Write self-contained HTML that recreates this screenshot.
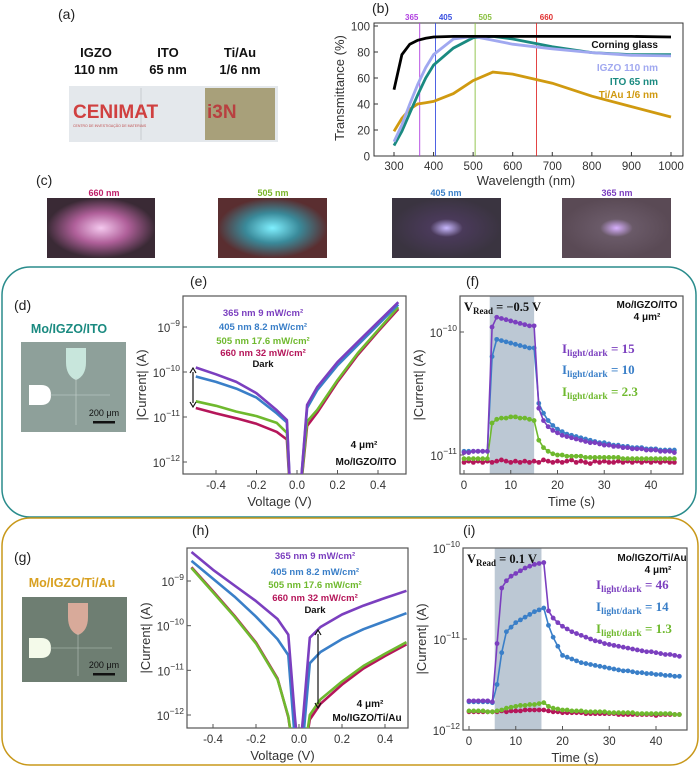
<!DOCTYPE html>
<html><head><meta charset="utf-8">
<style>
html,body{margin:0;padding:0;background:#fff;}
svg{display:block;font-family:"Liberation Sans",sans-serif;}
.tk{font-size:11.5px;fill:#333;}
.lbl{font-size:13px;fill:#333;}
.pl{font-size:14px;fill:#222;}
.lg{font-size:9.5px;font-weight:bold;}
</style></head>
<body>
<svg id="fig" width="700" height="767" viewBox="0 0 700 767" xmlns="http://www.w3.org/2000/svg">
<defs>
<clipPath id="cb"><rect x="374" y="23" width="309" height="133"/></clipPath>
<clipPath id="ce"><rect x="183" y="296" width="223" height="178"/></clipPath>
<clipPath id="cf"><rect x="460" y="296" width="223" height="178"/></clipPath>
<clipPath id="ch"><rect x="187" y="548" width="221" height="180"/></clipPath>
<clipPath id="ci"><rect x="463" y="548" width="224" height="182"/></clipPath>
<radialGradient id="g660"><stop offset="0" stop-color="#f4c8ee"/><stop offset="0.5" stop-color="#b0609a"/><stop offset="1" stop-color="#3a2a35"/></radialGradient>
<radialGradient id="g505"><stop offset="0" stop-color="#7ff0ff"/><stop offset="0.5" stop-color="#3a8a9a"/><stop offset="1" stop-color="#5a2e30"/></radialGradient>
<radialGradient id="g405"><stop offset="0" stop-color="#c8b8ff"/><stop offset="0.3" stop-color="#4a3a5a"/><stop offset="1" stop-color="#3a3440"/></radialGradient>
<radialGradient id="g365"><stop offset="0" stop-color="#d8b0ff"/><stop offset="0.3" stop-color="#6a5a68"/><stop offset="1" stop-color="#5a4a55"/></radialGradient>
</defs>

<!-- (a) -->
<text x="58" y="19" class="pl">(a)</text>
<g font-weight="bold" font-size="13" text-anchor="middle" fill="#111">
<text x="96" y="57">IGZO</text>
<text x="96" y="74">110 nm</text>
<text x="168" y="57">ITO</text>
<text x="168" y="74">65 nm</text>
<text x="240" y="57">Ti/Au</text>
<text x="240" y="74">1/6 nm</text>
</g>
<g>
<rect x="69" y="86" width="209" height="56" fill="#e4e8ec"/>
<rect x="205" y="88" width="70" height="52" fill="#a8a07a"/>
<line x1="141" y1="88" x2="141" y2="140" stroke="#c8ccd0"/>
<text x="73" y="118" font-size="19" font-weight="bold" fill="#d04040">CENIMAT</text>
<text x="207" y="118" font-size="19" font-weight="bold" fill="#b84040">i3N</text>
<text x="73" y="127" font-size="3.5" fill="#c05050">CENTRO DE INVESTIGAÇÃO DE MATERIAIS</text>
</g>

<!-- (b) -->
<text x="372" y="13" class="pl">(b)</text>
<g id="pb"></g>

<!-- (c) -->
<text x="36" y="185" class="pl">(c)</text>
<g font-size="9" font-weight="bold" text-anchor="middle">
<text x="104" y="196" fill="#c0206a">660 nm</text>
<text x="273" y="196" fill="#7ab52a">505 nm</text>
<text x="446" y="196" fill="#3a7fc8">405 nm</text>
<text x="617" y="196" fill="#7b3fbf">365 nm</text>
</g>
<rect x="47" y="198" width="108" height="60" fill="url(#g660)"/>
<rect x="218" y="198" width="109" height="60" fill="url(#g505)"/>
<rect x="392" y="198" width="109" height="60" fill="url(#g405)"/>
<rect x="562" y="198" width="109" height="60" fill="url(#g365)"/>

<!-- ITO box -->
<rect x="2" y="267" width="694" height="250" rx="28" fill="#fff" stroke="#2a8c8c" stroke-width="1.5"/>
<text x="14" y="310" class="pl">(d)</text>
<text x="190" y="286" class="pl">(e)</text>
<text x="466" y="286" class="pl">(f)</text>
<text x="69" y="333" text-anchor="middle" font-size="12.5" font-weight="bold" fill="#1a8a80">Mo/IGZO/ITO</text>
<g>
<rect x="21" y="342" width="105" height="90" fill="#8ea09a"/>
<path d="M66 348 h20 v14 q0 14 -10 18 q-10 -4 -10 -18z" fill="#c8e6dc"/>
<path d="M29 385 h12 q10 0 10 10 q0 10 -10 10 h-12z" fill="#fff"/>
<line x1="76" y1="378" x2="76" y2="425" stroke="#c8d4d0" stroke-width="0.6"/>
<line x1="50" y1="395" x2="110" y2="395" stroke="#c8d4d0" stroke-width="0.6"/>
<text x="104" y="416" font-size="9" text-anchor="middle" fill="#111">200 μm</text>
<rect x="93" y="421" width="22" height="2.5" fill="#111"/>
</g>
<g id="pe"></g><g id="pf"></g>

<!-- Ti/Au box -->
<rect x="2" y="518" width="696" height="247" rx="28" fill="#fff" stroke="#c8981a" stroke-width="1.5"/>
<text x="14" y="562" class="pl">(g)</text>
<text x="192" y="535" class="pl">(h)</text>
<text x="463" y="535" class="pl">(i)</text>
<text x="72" y="587" text-anchor="middle" font-size="12.5" font-weight="bold" fill="#d8a020">Mo/IGZO/Ti/Au</text>
<g>
<rect x="22" y="597" width="105" height="85" fill="#6e7e72"/>
<path d="M68 603 h20 v14 q0 14 -10 18 q-10 -4 -10 -18z" fill="#d8aa9a"/>
<path d="M29 638 h12 q10 0 10 10 q0 10 -10 10 h-12z" fill="#f4faea"/>
<line x1="78" y1="633" x2="78" y2="676" stroke="#b8c4bc" stroke-width="0.6"/>
<line x1="50" y1="648" x2="112" y2="648" stroke="#b8c4bc" stroke-width="0.6"/>
<text x="104" y="668" font-size="9" text-anchor="middle" fill="#111">200 μm</text>
<rect x="93" y="673" width="22" height="2.5" fill="#111"/>
</g>
<g id="ph"></g><g id="pi"></g>
</svg>

<script>
// ---------- data ----------
const wl = [300,320,340,360,380,400,450,500,550,600,700,800,900,1000];
const tCorning = [51,78,86,89,90.5,91.5,92,92,92,92,92,92,92,91.5];
const tIGZO = [11,24,40,55,68,78,90,92,89,86,82.5,79.5,77.5,77];
const tITO = [8,19,33,47,60,70,83,91,92,90,84,79.5,78,78];
const tTiAu = [19,29,36,40,41,42,48,58,64.5,63,56,46,38,30];
const bXTicks = [300,400,500,600,700,800,900,1000];
const bYTicks = [0,20,40,60,80,100];
const ledNm = [365,405,505,660];

const vE = [-0.5,-0.4,-0.3,-0.2,-0.1,-0.05,-0.03,0,0.01,0.05,0.1,0.2,0.3,0.4,0.5];
const e365 = [-9.9,-10.05,-10.22,-10.47,-10.85,-11.07,-13,-13,-13,-10.73,-10.33,-9.78,-9.33,-8.89,-8.45];
const e405 = [-10.1,-10.22,-10.37,-10.57,-10.92,-11.12,-13,-13,-13,-10.8,-10.4,-9.85,-9.4,-8.95,-8.5];
const e505 = [-10.65,-10.75,-10.88,-10.98,-11.13,-11.35,-13,-13,-13,-11.1,-10.84,-10.18,-9.58,-9.07,-8.56];
const e660 = [-10.8,-10.92,-11.03,-11.15,-11.33,-11.5,-13,-13,-13,-11.2,-10.9,-10.22,-9.62,-9.1,-8.6];

const vH = [-0.5,-0.4,-0.3,-0.2,-0.1,-0.05,-0.02,0,0.02,0.05,0.1,0.2,0.3,0.4,0.5];
const h365 = [-8.35,-8.75,-9.1,-9.45,-9.85,-10.2,-12,-13,-12,-10.27,-10.03,-9.75,-9.55,-9.38,-9.22];
const h405 = [-8.55,-8.95,-9.35,-9.8,-10.3,-10.66,-12.5,-13,-12.5,-10.84,-10.59,-10.3,-10.08,-9.9,-9.72];
const h505 = [-8.71,-9.25,-9.8,-10.4,-11.2,-12.03,-13,-13.5,-13,-12.0,-11.65,-11.25,-10.9,-10.63,-10.37];
const h660 = [-8.69,-9.23,-9.78,-10.38,-11.18,-12.05,-13,-13.5,-13,-12.1,-11.75,-11.32,-10.96,-10.68,-10.42];
const vTicks = [-0.4,-0.2,0.0,0.2,0.4];

const tF = [0,1,2,3,4,5,6,7,8,9,10,11,12,13,14,15,16,17,18,19,20,21,22,23,24,25,26,27,28,29,30,31,32,33,34,35,36,37,38,39,40,41,42,43,44,45];
const f365 = [-10.98,-10.98,-10.97,-10.97,-10.97,-10.97,-9.96,-9.88,-9.89,-9.9,-9.91,-9.92,-9.93,-9.94,-9.95,-9.95,-10.62,-10.72,-10.77,-10.8,-10.82,-10.84,-10.85,-10.86,-10.87,-10.88,-10.89,-10.9,-10.9,-10.91,-10.92,-10.92,-10.93,-10.93,-10.94,-10.94,-10.95,-10.95,-10.95,-10.96,-10.96,-10.96,-10.97,-10.97,-10.97,-10.98];
const f405 = [-10.97,-10.97,-10.97,-10.97,-10.97,-10.97,-10.2,-10.06,-10.07,-10.08,-10.09,-10.1,-10.11,-10.12,-10.13,-10.13,-10.58,-10.66,-10.72,-10.76,-10.79,-10.81,-10.83,-10.84,-10.85,-10.86,-10.87,-10.88,-10.89,-10.9,-10.9,-10.91,-10.92,-10.92,-10.93,-10.93,-10.94,-10.94,-10.94,-10.95,-10.95,-10.95,-10.96,-10.96,-10.96,-10.96];
const f505 = [-11.03,-11.03,-11.03,-11.03,-11.03,-11.03,-10.74,-10.71,-10.7,-10.7,-10.69,-10.69,-10.7,-10.7,-10.71,-10.72,-10.88,-10.94,-10.97,-10.99,-11.0,-11.0,-11.01,-11.01,-11.01,-11.01,-11.02,-11.02,-11.02,-11.02,-11.02,-11.02,-11.02,-11.02,-11.03,-11.03,-11.03,-11.03,-11.03,-11.03,-11.03,-11.03,-11.03,-11.03,-11.03,-11.03];
const f660 = [-11.06,-11.05,-11.06,-11.05,-11.06,-11.05,-11.06,-11.05,-11.04,-11.05,-11.06,-11.05,-11.06,-11.05,-11.06,-11.05,-11.06,-11.04,-11.05,-11.06,-11.05,-11.06,-11.05,-11.04,-11.06,-11.05,-11.06,-11.07,-11.05,-11.06,-11.05,-11.06,-11.06,-11.05,-11.06,-11.05,-11.06,-11.05,-11.06,-11.05,-11.06,-11.05,-11.06,-11.05,-11.06,-11.06];
const i365 = [-11.68,-11.68,-11.68,-11.68,-11.68,-11.69,-11.05,-10.44,-10.36,-10.31,-10.28,-10.25,-10.22,-10.2,-10.18,-10.17,-10.16,-10.69,-10.77,-10.82,-10.86,-10.89,-10.92,-10.94,-10.96,-10.98,-11.0,-11.02,-11.03,-11.05,-11.06,-11.07,-11.08,-11.09,-11.1,-11.11,-11.12,-11.13,-11.14,-11.14,-11.15,-11.16,-11.17,-11.17,-11.18,-11.19];
const i405 = [-11.69,-11.69,-11.69,-11.69,-11.69,-11.7,-11.5,-11.15,-10.92,-10.87,-10.82,-10.79,-10.76,-10.73,-10.7,-10.68,-10.66,-10.85,-10.98,-11.08,-11.18,-11.2,-11.22,-11.24,-11.26,-11.27,-11.28,-11.29,-11.3,-11.31,-11.32,-11.33,-11.34,-11.35,-11.35,-11.36,-11.37,-11.37,-11.38,-11.38,-11.39,-11.39,-11.4,-11.4,-11.41,-11.41];
const i505 = [-11.79,-11.79,-11.79,-11.79,-11.8,-11.8,-11.79,-11.78,-11.76,-11.75,-11.74,-11.73,-11.73,-11.72,-11.72,-11.71,-11.7,-11.74,-11.76,-11.77,-11.78,-11.78,-11.79,-11.79,-11.79,-11.8,-11.8,-11.8,-11.8,-11.8,-11.81,-11.81,-11.81,-11.81,-11.81,-11.81,-11.82,-11.82,-11.82,-11.82,-11.82,-11.82,-11.82,-11.82,-11.83,-11.83];
const i660 = [-11.8,-11.8,-11.8,-11.8,-11.8,-11.8,-11.8,-11.79,-11.8,-11.79,-11.79,-11.79,-11.78,-11.78,-11.78,-11.78,-11.78,-11.79,-11.8,-11.8,-11.81,-11.81,-11.81,-11.81,-11.81,-11.82,-11.82,-11.82,-11.82,-11.82,-11.82,-11.82,-11.83,-11.83,-11.83,-11.83,-11.83,-11.83,-11.83,-11.83,-11.84,-11.83,-11.83,-11.83,-11.83,-11.83];
const timeTicks = [0,10,20,30,40];

const C = {p:'#7b3fbf',b:'#3a7fc8',g:'#6fb92e',r:'#b5165a'};
const NS='http://www.w3.org/2000/svg';
function mk(parent,tag,attrs){const e=document.createElementNS(NS,tag);for(const k in attrs)e.setAttribute(k,attrs[k]);parent.appendChild(e);return e;}
function txt(parent,x,y,s,attrs){const t=mk(parent,'text',Object.assign({x:x,y:y},attrs||{}));t.textContent=s;return t;}
function lin(a0,a1,p0,p1){return v=>p0+(v-a0)/(a1-a0)*(p1-p0);}
function pathD(xs,ys,sx,sy){return xs.map((x,i)=>(i?'L':'M')+sx(x).toFixed(1)+' '+sy(ys[i]).toFixed(1)).join(' ');}
function sup(parent,x,y,exp,anchor){const t=mk(parent,'text',{x:x,y:y,'text-anchor':anchor||'end',class:'tk'});t.textContent='10';const s=mk(t,'tspan',{dy:-6,'font-size':'8.5'});s.textContent=exp;return t;}

// ---------- (b) ----------
(function(){
const g=document.getElementById('pb');
const sx=lin(300,1000,394,671), sy=lin(0,100,156,26);
const ax=mk(g,'rect',{x:374,y:23,width:309,height:133,fill:'none',stroke:'#333','stroke-width':1});


bXTicks.forEach(v=>{mk(g,'line',{x1:sx(v),x2:sx(v),y1:156,y2:152,stroke:'#333'});
 const t=txt(g,sx(v),170,v,{class:'tk','text-anchor':'middle','font-size':'12'});});
bYTicks.forEach(v=>{mk(g,'line',{x1:374,x2:378,y1:sy(v),y2:sy(v),stroke:'#333'});
 const t=txt(g,370,sy(v)+4.5,v,{class:'tk','text-anchor':'end','font-size':'12'});});
const xt=txt(g,526,185,'Wavelength (nm)',{class:'lbl','text-anchor':'middle','font-size':'14'});

const yt=txt(g,0,0,'Transmittance (%)',{class:'lbl','text-anchor':'middle','font-size':'14',transform:'translate(344,88) rotate(-90)'});

const ledCol=['#b040e0','#3a50e0','#8ac040','#e03030'];
const labOff=[-8,10,10,10];
ledNm.forEach((n,i)=>{const l=mk(g,'line',{x1:sx(n),x2:sx(n),y1:23,y2:156,stroke:ledCol[i],'stroke-width':0.9});
 
 const t=txt(g,sx(n)+labOff[i],20,n,{'font-size':'8','font-weight':'bold','text-anchor':'middle',fill:ledCol[i]});
 });
const cg=mk(g,'g',{'clip-path':'url(#cb)'});
[[tTiAu,'#d09a10','tiau-curve'],[tITO,'#1a8a80','ito-curve'],[tIGZO,'#a0a8f0','igzo-curve'],[tCorning,'#000','corning-curve']].forEach(s=>{
 const p=mk(cg,'path',{d:pathD(wl,s[0],sx,sy),fill:'none',stroke:s[1],'stroke-width':2.8});
 });
const labs=[['Corning glass',48,'#111'],['IGZO 110 nm',71,'#a0a8f0'],['ITO 65 nm',85,'#1a8a80'],['Ti/Au 1/6 nm',98,'#d09a10']];
labs.forEach(l=>{const t=txt(g,658,l[1],l[0],{'font-size':'10','font-weight':'bold','text-anchor':'end',fill:l[2]});
 });
})();

// ---------- IV panels ----------
function ivPanel(id,box,xr,yr,ticksExp,vx,series,cpid,legendX,legendY,arrow,labels){
 const g=document.getElementById(id);
 const sx=lin(xr[0],xr[1],xr[2],xr[3]), sy=lin(yr[0],yr[1],yr[2],yr[3]);
 const r=mk(g,'rect',{x:box[0],y:box[1],width:box[2],height:box[3],fill:'none',stroke:'#555','stroke-width':1.2});
 
 vTicks.forEach(v=>{mk(g,'line',{x1:sx(v),x2:sx(v),y1:box[1]+box[3],y2:box[1]+box[3]-4,stroke:'#555'});
  const t=txt(g,sx(v),box[1]+box[3]+15,v.toFixed(1),{class:'tk','text-anchor':'middle'});
  });
 ticksExp.forEach(e=>{mk(g,'line',{x1:box[0],x2:box[0]+4,y1:sy(e),y2:sy(e),stroke:'#555'});
  const t=sup(g,box[0]-3,sy(e)+5,String(e).replace('-','−'));
  });
 const xt=txt(g,box[0]+box[2]/2-15,box[1]+box[3]+32,'Voltage (V)',{class:'lbl','text-anchor':'middle','font-size':'14'});
 
 const yt=txt(g,0,0,'|Current| (A)',{class:'lbl','text-anchor':'middle','font-size':'14',transform:'translate('+(box[0]-37)+','+(box[1]+box[3]/2)+') rotate(-90)'});
 
 const cg=mk(g,'g',{'clip-path':'url(#'+cpid+')'});
 series.forEach(s=>{const p=mk(cg,'path',{d:pathD(vx,s[0],sx,sy),fill:'none',stroke:s[1],'stroke-width':2.6,'stroke-linejoin':'round'});
  });
 const legs=[['365 nm 9 mW/cm²',C.p],['405 nm 8.2 mW/cm²',C.b],['505 nm 17.6 mW/cm²',C.g],['660 nm 32 mW/cm²',C.r],['Dark','#111']];
 legs.forEach((l,i)=>{const t=txt(g,legendX,legendY[i],l[0],{class:'lg','text-anchor':'middle',fill:l[1]});
  });
 const a=mk(g,'path',{d:'M'+arrow[0]+' '+(arrow[1]+4)+' V'+(arrow[2]-4)+' M'+(arrow[0]-3)+' '+(arrow[1]+5)+' L'+arrow[0]+' '+arrow[1]+' L'+(arrow[0]+3)+' '+(arrow[1]+5)+' M'+(arrow[0]-3)+' '+(arrow[2]-5)+' L'+arrow[0]+' '+arrow[2]+' L'+(arrow[0]+3)+' '+(arrow[2]-5),fill:'none',stroke:'#111','stroke-width':1.2});
 
 labels.forEach(l=>{const t=txt(g,l[0],l[1],l[2],{'font-size':'10','font-weight':'bold','text-anchor':'middle',fill:'#111'});
  });
}
ivPanel('pe',[183,296,223,178],[0,0.4,297,378],[-9,-12,327,462],[-9,-10,-11,-12],vE,
 [[e660,C.r,'iv-660nm'],[e505,C.g,'iv-505nm'],[e405,C.b,'iv-405nm'],[e365,C.p,'iv-365nm']],'ce',
 263,[316,330,344,356,367],[193,368,407],[[364,448,'4 μm²'],[366,465,'Mo/IGZO/ITO']]);
ivPanel('ph',[187,548,221,180],[0,0.4,299,385],[-9,-12,581,715],[-9,-10,-11,-12],vH,
 [[h660,C.r,'iv-660nm'],[h505,C.g,'iv-505nm'],[h405,C.b,'iv-405nm'],[h365,C.p,'iv-365nm']],'ch',
 315,[559,575,588,601,613],[318,630,708],[[370,707,'4 μm²'],[367,721,'Mo/IGZO/Ti/Au']]);

// ---------- transient panels ----------
function tPanel(id,box,xr,yr,ticksExp,shade,series,cpid,vread,dev,ratios,ry,rx){
 const g=document.getElementById(id);
 const sx=lin(xr[0],xr[1],xr[2],xr[3]), sy=lin(yr[0],yr[1],yr[2],yr[3]);
 const sh=mk(g,'rect',{x:sx(shade[0]),y:box[1],width:sx(shade[1])-sx(shade[0]),height:box[3],fill:'#bcc8d4'});
 
 const r=mk(g,'rect',{x:box[0],y:box[1],width:box[2],height:box[3],fill:'none',stroke:'#555','stroke-width':1.2});
 
 timeTicks.forEach(v=>{mk(g,'line',{x1:sx(v),x2:sx(v),y1:box[1]+box[3],y2:box[1]+box[3]-4,stroke:'#555'});
  const t=txt(g,sx(v),box[1]+box[3]+15,v,{class:'tk','text-anchor':'middle'});
  });
 ticksExp.forEach(e=>{mk(g,'line',{x1:box[0],x2:box[0]+4,y1:sy(e),y2:sy(e),stroke:'#555'});
  const t=sup(g,box[0]-3,sy(e)+5,String(e).replace('-','−'));
  });
 const xt=txt(g,box[0]+box[2]/2,box[1]+box[3]+32,'Time (s)',{class:'lbl','text-anchor':'middle','font-size':'14'});
 
 const yt=txt(g,0,0,'|Current| (A)',{class:'lbl','text-anchor':'middle','font-size':'14',transform:'translate('+(box[0]-37)+','+(box[1]+box[3]/2)+') rotate(-90)'});
 
 const cg=mk(g,'g',{'clip-path':'url(#'+cpid+')'});
 series.forEach(s=>{const p=mk(cg,'path',{d:pathD(tF,s[0],sx,sy),fill:'none',stroke:s[1],'stroke-width':1.6});
  
  tF.forEach((t,i)=>{const c=mk(cg,'circle',{cx:sx(t),cy:sy(s[0][i]),r:2.4,fill:s[1]});
   });});
 const vr=mk(g,'text',{x:box[0]+4,y:box[1]+15,'font-family':'Liberation Serif,serif','font-size':'12.5','font-weight':'bold',fill:'#111'});
 
 vr.textContent='V';const sb=mk(vr,'tspan',{dy:3,'font-size':'9'});sb.textContent='Read';
 const rest=mk(vr,'tspan',{dy:-3});rest.textContent=' = '+vread;
 dev.forEach(d=>{const t=txt(g,d[0],d[1],d[2],{'font-size':'10','font-weight':'bold','text-anchor':'middle',fill:'#111'});
  });
 ratios.forEach((rt,i)=>{const t=mk(g,'text',{x:rx,y:ry[i],'font-family':'Liberation Serif,serif','font-size':'13','font-weight':'bold',fill:rt[1]});
  
  t.textContent='I';const s=mk(t,'tspan',{dy:3,'font-size':'9.5'});s.textContent='light/dark';
  const s2=mk(t,'tspan',{dy:-3});s2.textContent=' = '+rt[0];});
}
tPanel('pf',[460,296,223,178],[0,40,464,651],[-10,-11,332,455],[-10,-11],[5.5,15],
 [[f660,C.r,'transient-660nm'],[f505,C.g,'transient-505nm'],[f405,C.b,'transient-405nm'],[f365,C.p,'transient-365nm']],'cf',
 '−0.5 V',[[647,308,'Mo/IGZO/ITO'],[647,320,'4 μm²']],[['15',C.p],['10',C.b],['2.3',C.g]],[353,374,396],562);
tPanel('pi',[463,548,224,182],[0,40,469,656],[-10,-12,548,730],[-10,-11,-12],[5.5,15.5],
 [[i660,C.r,'transient-660nm'],[i505,C.g,'transient-505nm'],[i405,C.b,'transient-405nm'],[i365,C.p,'transient-365nm']],'ci',
 '0.1 V',[[652,561,'Mo/IGZO/Ti/Au'],[658,573,'4 μm²']],[['46',C.p],['14',C.b],['1.3',C.g]],[589,611,633],596);
</script>
</body></html>
